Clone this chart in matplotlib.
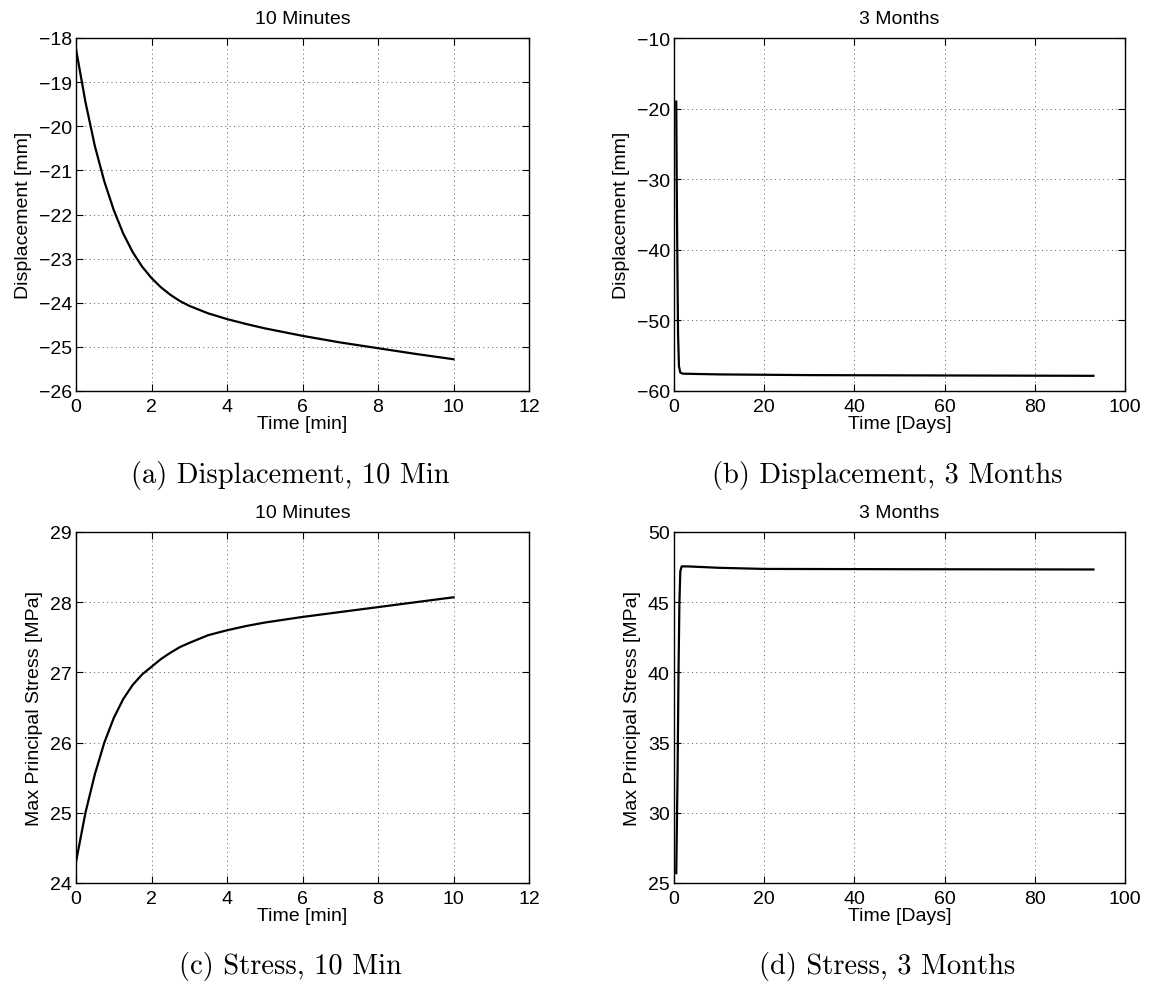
import matplotlib.pyplot as plt

# --- data ---
t_min = [0, 0.25, 0.5, 0.75, 1, 1.25, 1.5, 1.75, 2, 2.25, 2.5, 2.75, 3, 3.5,
         4, 4.5, 5, 6, 7, 8, 9, 10]
disp_10min = [-18.25, -19.45, -20.45, -21.25, -21.9, -22.43, -22.85, -23.18, -23.44,
              -23.65, -23.82, -23.96, -24.07, -24.24, -24.37, -24.48, -24.58,
              -24.75, -24.9, -25.03, -25.16, -25.28]
stress_10min = [24.3, 25.0, 25.55, 26.0, 26.35, 26.62, 26.82, 26.97, 27.08,
                27.19, 27.28, 27.36, 27.42, 27.53, 27.6, 27.66, 27.71,
                27.79, 27.86, 27.93, 28.0, 28.07]

t_days_b = [0.5, 0.6, 0.75, 0.9, 1.1, 1.4, 2, 10, 30, 60, 93]
disp_3mo = [-19, -30, -42, -52, -56.5, -57.4, -57.55, -57.65, -57.75, -57.8, -57.85]

t_days_d = [0.5, 0.8, 1.0, 1.2, 1.4, 1.7, 3, 10, 20, 50, 93]
stress_3mo = [25.7, 33, 40, 45, 47.2, 47.55, 47.55, 47.45, 47.37, 47.35, 47.33]

W, H = 1150, 987
fig = plt.figure(figsize=(W / 100, H / 100), dpi=100)
plt.rcParams['font.family'] = 'Liberation Sans'
FS = 14


def box(l, t, r, b):
    return [l / W, 1 - b / H, (r - l) / W, (b - t) / H]


panels = [
    dict(rect=box(76, 39, 529, 392), x=t_min, y=disp_10min, xlim=(0, 12), ylim=(-26, -18),
         xticks=range(0, 13, 2), yticks=range(-26, -17), title='10 Minutes',
         xlabel='Time [min]', ylabel='Displacement [mm]', cap='(a) Displacement, 10 Min'),
    dict(rect=box(674, 39, 1125, 392), x=t_days_b, y=disp_3mo, xlim=(0, 100), ylim=(-60, -10),
         xticks=range(0, 101, 20), yticks=range(-60, -9, 10), title='3 Months',
         xlabel='Time [Days]', ylabel='Displacement [mm]', cap='(b) Displacement, 3 Months'),
    dict(rect=box(76, 533, 529, 884), x=t_min, y=stress_10min, xlim=(0, 12), ylim=(24, 29),
         xticks=range(0, 13, 2), yticks=range(24, 30), title='10 Minutes',
         xlabel='Time [min]', ylabel='Max Principal Stress [MPa]', cap='(c) Stress, 10 Min'),
    dict(rect=box(674, 533, 1125, 884), x=t_days_d, y=stress_3mo, xlim=(0, 100), ylim=(25, 50),
         xticks=range(0, 101, 20), yticks=range(25, 51, 5), title='3 Months',
         xlabel='Time [Days]', ylabel='Max Principal Stress [MPa]', cap='(d) Stress, 3 Months'),
]

for p in panels:
    ax = fig.add_axes(p['rect'])
    ax.plot(p['x'], p['y'], color='black', lw=1.6)
    ax.set_xlim(*p['xlim'])
    ax.set_ylim(*p['ylim'])
    ax.set_xticks(list(p['xticks']))
    ax.set_yticks(list(p['yticks']))
    ax.grid(True, linestyle=(0, (1, 3.5)), color='0.35', lw=0.7)
    ax.tick_params(direction='in', top=True, right=True, length=5, width=0.8,
                   labelsize=FS, pad=3)
    ax.tick_params(axis='x', pad=5)
    for s in ax.spines.values():
        s.set_linewidth(1.0)
    ax.set_title(p['title'], fontsize=FS, pad=11)
    ax.set_xlabel(p['xlabel'], fontsize=FS, labelpad=0)
    ax.set_ylabel(p['ylabel'], fontsize=FS, labelpad=5)
    x0, y0, w, h = p['rect']
    # subfigure caption in Computer Modern, like the LaTeX document
    fig.text(x0 + w / 2 - 12 / W, y0 - 83 / H, p['cap'], family='cmr10', fontsize=20.5,
             ha='center', va='center')

fig.savefig('out.png', dpi=100)
